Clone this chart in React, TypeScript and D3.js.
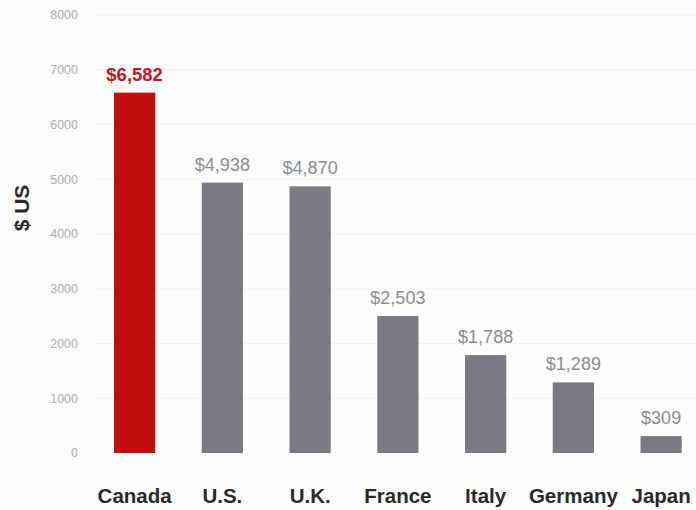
import React from "react";
import * as d3 from "d3";

const categories = ["Canada", "U.S.", "U.K.", "France", "Italy", "Germany", "Japan"];
const values = [6582, 4938, 4870, 2503, 1788, 1289, 309];
const labels = ["$6,582", "$4,938", "$4,870", "$2,503", "$1,788", "$1,289", "$309"];
const yTicks = [0, 1000, 2000, 3000, 4000, 5000, 6000, 7000, 8000];

const W = 696;
const H = 510;

export default function App() {
  const x = d3.scaleBand<string>().domain(categories).range([90.75, 705]).paddingInner(0.53).paddingOuter(0.265);
  const y = d3.scaleLinear().domain([0, 8000]).range([453, 15]);
  const font = "Arial, 'Liberation Sans', Helvetica, sans-serif";
  return (
    <svg width={W} height={H} style={{ position: "absolute", left: 0, top: 0, background: "#fff" }} fontFamily={font}>
      <rect x={0} y={0} width={W} height={H} fill="#fdfdfd" />
      {yTicks.map((t) => (
        <g key={t}>
          {t > 0 && <line x1={96} x2={696} y1={y(t)} y2={y(t)} stroke="#f3f3f3" strokeWidth={1} />}
          <text x={78} y={y(t)} dy="0.35em" textAnchor="end" fontSize={12.5} fill="#adadad">
            {t}
          </text>
        </g>
      ))}
      <text transform={`translate(29,208) rotate(-90)`} textAnchor="middle" fontSize={21} fontWeight="bold" fill="#2a2a2a">
        $ US
      </text>
      {categories.map((c, i) => (
        <g key={c}>
          <rect x={x(c)} y={y(values[i])} width={x.bandwidth()} height={y(0) - y(values[i])} fill={i === 0 ? "#c00d0d" : "#7a7a82"} />
          <text
            x={(x(c) as number) + x.bandwidth() / 2}
            y={y(values[i]) - 12}
            textAnchor="middle"
            fontSize={i === 0 ? 18.5 : 18}
            fontWeight={i === 0 ? "bold" : "normal"}
            fill={i === 0 ? "#c41a1a" : "#8c8c94"}
          >
            {labels[i]}
          </text>
          <text x={(x(c) as number) + x.bandwidth() / 2} y={503} textAnchor="middle" fontSize={20.5} fontWeight="bold" fill="#2a2a2a">
            {c}
          </text>
        </g>
      ))}
    </svg>
  );
}
